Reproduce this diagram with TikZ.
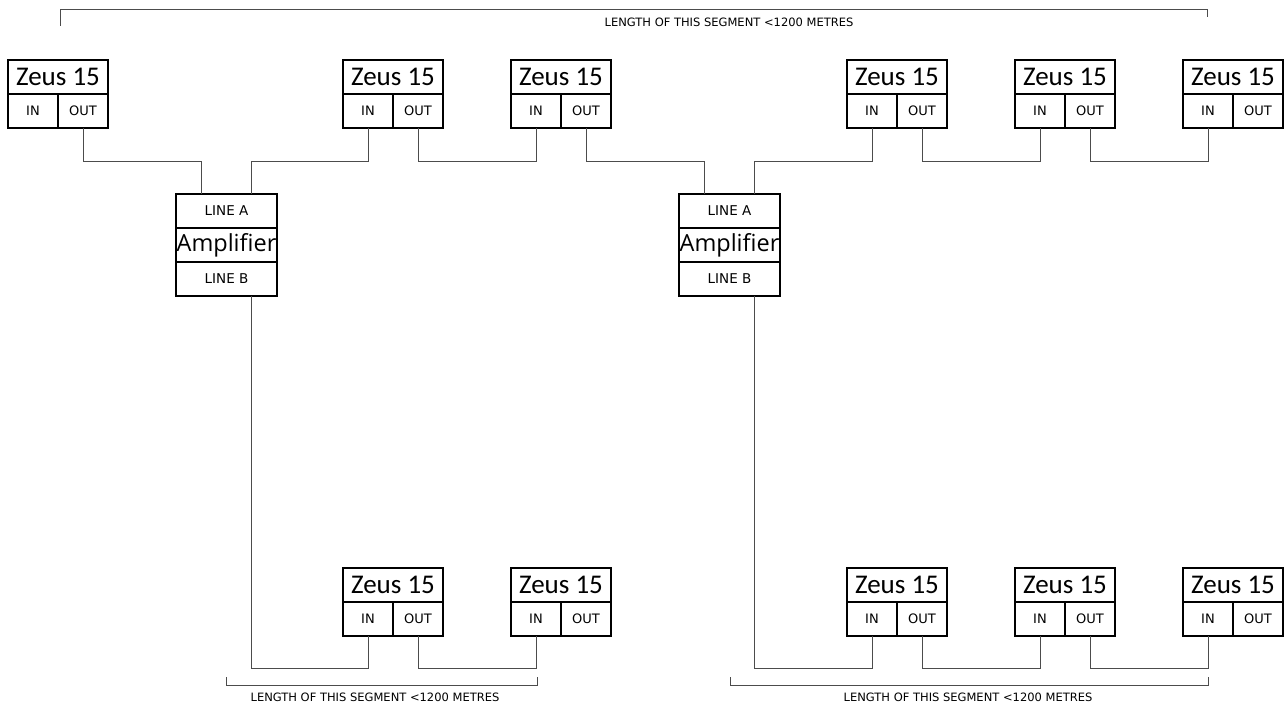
\documentclass[tikz,border=0pt]{standalone}
\usepackage{fontspec}
\setmainfont{DejaVu Sans}
\newfontfamily\zeusfont{Carlito}
\newfontfamily\ampfont{Open Sans}
\usetikzlibrary{positioning}

\begin{document}
\begin{tikzpicture}[
        x=1pt, y=-1pt,
        zeushead/.style={rectangle, draw, line width=1.6pt, minimum width=100pt, minimum height=34pt, inner sep=0pt, outer sep=0pt, font=\zeusfont\fontsize{27}{27}\selectfont},
        port/.style={rectangle, draw, line width=1.6pt, minimum width=50pt, minimum height=34pt, inner sep=0pt, outer sep=0pt, font=\fontsize{13}{13}\selectfont},
        ampline/.style={rectangle, draw, line width=1.6pt, minimum width=101pt, minimum height=34pt, inner sep=0pt, outer sep=0pt, font=\fontsize{13.5}{13.5}\selectfont},
        ampname/.style={ampline, font=\ampfont\fontsize{23.5}{23.5}\selectfont},
        wire/.style={draw, line width=0.9pt, black!70},
        span/.style={font=\fontsize{11.5}{11.5}\selectfont}
    ]
        \useasboundingbox (0,0) rectangle (1284,706);

        % Zeus 15 units
        \foreach \n/\x/\y in {t1/8/60, t2/343/60, t3/511/60, t4/847/60, t5/1015/60, t6/1183/60,
                              b1/343/568, b2/511/568, b3/847/568, b4/1015/568, b5/1183/568} {
            \node [zeushead, anchor=north west] (z\n) at (\x,\y) {Zeus 15};
            \node [port, anchor=north west] (z\n-in) at (z\n.south west) {IN};
            \node [port, anchor=north east] (z\n-out) at (z\n.south east) {OUT};
        }

        % amplifiers
        \foreach \n/\x in {1/176, 2/679} {
            \node [ampline, anchor=north west] (a\n-A) at (\x,194) {LINE A};
            \node [ampname, anchor=north] (a\n) at (a\n-A.south) {Amplifier};
            \node [ampline, anchor=north] (a\n-B) at (a\n.south) {LINE B};
        }

        % line A
        \path [wire] (zt1-out.south) -- ++(0,33) -| ([xshift=-25pt]a1-A.north);
        \path [wire] (zt2-in.south) -- ++(0,33) -| ([xshift=25pt]a1-A.north);
        \path [wire] (zt2-out.south) -- ++(0,33) -| (zt3-in.south);
        \path [wire] (zt3-out.south) -- ++(0,33) -| ([xshift=-25pt]a2-A.north);
        \path [wire] (zt4-in.south) -- ++(0,33) -| ([xshift=25pt]a2-A.north);
        \path [wire] (zt4-out.south) -- ++(0,33) -| (zt5-in.south);
        \path [wire] (zt5-out.south) -- ++(0,33) -| (zt6-in.south);

        % line B
        \path [wire] (zb1-in.south) -- ++(0,32) -| ([xshift=25pt]a1-B.south);
        \path [wire] (zb1-out.south) -- ++(0,32) -| (zb2-in.south);
        \path [wire] (zb3-in.south) -- ++(0,32) -| ([xshift=25pt]a2-B.south);
        \path [wire] (zb3-out.south) -- ++(0,32) -| (zb4-in.south);
        \path [wire] (zb4-out.south) -- ++(0,32) -| (zb5-in.south);

        % segment lengths
        \draw [wire] (60,26) -- (60,9) -- (1207,9) -- (1207,17);
        \node [span] (lt) at (729,22) {LENGTH OF THIS SEGMENT <1200 METRES};
        \draw [wire] (226,677) -- (226,685) -- (537,685) -- (537,677);
        \node [span] (lb1) at (375,697) {LENGTH OF THIS SEGMENT <1200 METRES};
        \draw [wire] (730,677) -- (730,685) -- (1208,685) -- (1208,677);
        \node [span] (lb2) at (968,697) {LENGTH OF THIS SEGMENT <1200 METRES};
    \end{tikzpicture}
\end{document}
